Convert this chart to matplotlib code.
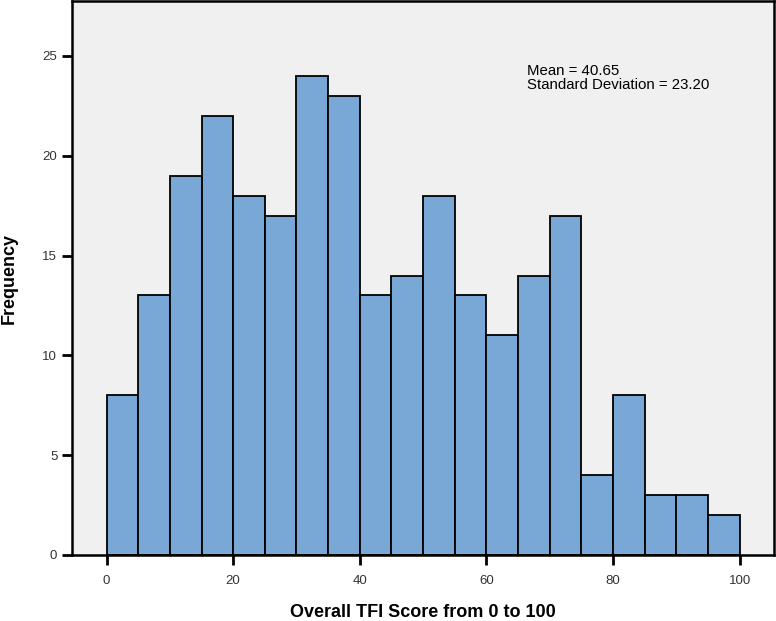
import numpy as np
import matplotlib.pyplot as plt

plt.rcParams['font.family'] = ['Liberation Sans', 'DejaVu Sans']

# bin edges and counts
bin_edges = np.arange(0, 105, 5)
counts = [8, 13, 19, 22, 18, 17, 24, 23, 13, 14, 18, 13, 11, 14, 17, 4, 8, 3, 3, 2]
x_ticks = [0, 20, 40, 60, 80, 100]
y_ticks = [0, 5, 10, 15, 20, 25]
stats_text = "Mean = 40.65\nStandard Deviation = 23.20"

fig = plt.figure(figsize=(7.76, 6.21), dpi=100)
ax = fig.add_axes([0.0932, 0.1063, 0.9042, 0.892])
ax.set_facecolor('#f0f0f0')

ax.bar(bin_edges[:-1], counts, width=5, align='edge', color='#7aa8d6',
       edgecolor='black', linewidth=1.3)

ax.set_xlim(-5.4, 105.4)
ax.set_ylim(0, 27.75)
ax.set_xticks(x_ticks)
ax.set_yticks(y_ticks)
ax.tick_params(axis='both', labelsize=9.5, width=2, length=7.2, direction='out',
               colors='black', labelcolor='#333333')
ax.tick_params(axis='x', pad=7)
ax.tick_params(axis='y', pad=3.6)
for s in ax.spines.values():
    s.set_linewidth(1.8)

ax.text(66.4, 24.6, stats_text, fontsize=10.8, va='top', ha='left',
        linespacing=1.0)

ax.set_xlabel('Overall TFI Score from 0 to 100', fontsize=13, fontweight='bold')
ax.set_ylabel('Frequency', fontsize=13, fontweight='bold')
ax.xaxis.set_label_coords(0.5, -0.1047)
ax.xaxis.label.set_va('center')
ax.yaxis.set_label_coords(-0.0902, 0.5)
ax.yaxis.label.set_va('center')

fig.savefig('out.png', dpi=100)
